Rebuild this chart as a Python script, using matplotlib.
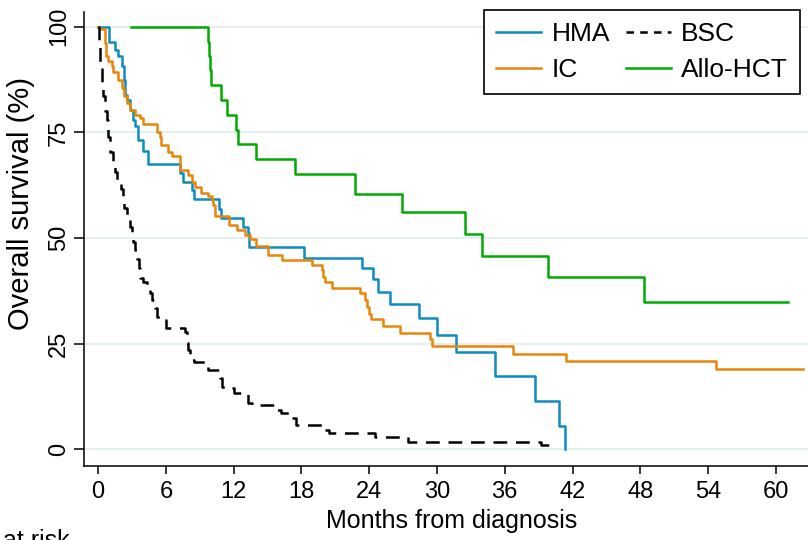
import matplotlib
matplotlib.use("Agg")
import matplotlib.pyplot as plt
from matplotlib.lines import Line2D

# ---------------------------------------------------------------------------
# Kaplan-Meier step data (months, survival %)
# ---------------------------------------------------------------------------
hma_t = [0, 1.0, 1.5, 1.8, 2.1, 2.25, 2.4, 2.6, 2.8, 3.1, 3.3, 3.5, 4.0, 4.45,
         7.25, 7.55, 8.3, 8.5, 10.7, 10.85, 12.8, 13.25, 13.4, 18.2, 23.4,
         24.3, 24.75, 25.8, 28.4, 30.0, 31.65, 35.1, 38.7, 40.8, 41.3]
hma_s = [100, 96.4, 94.5, 93.0, 90.6, 87.4, 83.9, 82.7, 80.3, 78.0, 76.4, 73.2,
         70.5, 67.5, 65.3, 63.3, 61.4, 59.2, 56.8, 54.8, 52.7, 51.1, 47.9, 45.3,
         42.8, 40.2, 37.3, 34.4, 31.0, 27.0, 23.1, 17.4, 11.45, 5.5, 0]

ic_t = [0, 0.2, 0.6, 0.7, 0.9, 1.2, 1.35, 1.8, 2.1, 2.25, 2.55, 2.85, 3.3, 3.7,
        4.0, 5.2, 5.5, 5.6, 6.2, 6.5, 7.25, 8.0, 8.3, 8.6, 9.1, 9.75, 10.1,
        10.2, 10.35, 11.6, 12.3, 13.0, 13.45, 14.0, 15.0, 16.25, 18.9, 19.8,
        19.9, 20.1, 20.7, 23.2, 23.6, 23.8, 24.0, 24.2, 25.2, 26.7, 29.4, 29.6,
        36.75, 41.4, 54.7, 62.4]
ic_s = [100, 99.4, 96.1, 93.0, 92.0, 90.6, 89.4, 87.4, 85.5, 83.5, 81.9, 80.3,
        79.1, 78.3, 77.0, 75.2, 74.0, 72.0, 70.4, 69.3, 66.1, 64.9, 63.3, 62.0,
        60.6, 60.0, 58.9, 57.8, 55.2, 53.1, 51.9, 50.7, 49.7, 48.1, 46.0, 44.8,
        43.6, 42.4, 40.8, 39.6, 38.2, 36.9, 35.3, 33.7, 32.1, 30.7, 29.1, 27.6,
        26.0, 24.3, 22.6, 20.9, 19.0, 19.0]

bsc_t = [0, 0.1, 0.2, 0.3, 0.4, 0.6, 0.75, 0.9, 1.05, 1.3, 1.5, 1.7, 2.0, 2.2,
         2.3, 2.6, 2.8, 3.0, 3.1, 3.3, 3.4, 3.6, 3.7, 4.0, 4.3, 4.6, 4.8, 5.0,
         5.2, 5.5, 6.0, 7.7, 7.9, 8.0, 8.1, 8.5, 9.7, 10.8, 11.0, 11.5, 12.0,
         13.3, 13.6, 15.8, 16.2, 17.0, 17.5, 19.9, 20.4, 24.5, 27.4, 39.2, 40.0]
bsc_s = [100, 96, 91.5, 87, 83.6, 80, 78, 74, 70.4, 67.5, 65.6, 63.5, 61.5, 59,
         57, 54.7, 52.6, 51, 49, 47.2, 45, 42.9, 40.5, 39.6, 37.7, 36.9, 35.3,
         33.5, 31.3, 30.6, 28.6, 27.7, 25.1, 23.5, 21.1, 20.6, 18.7, 16.8, 14.7,
         14.5, 13.3, 11.0, 10.4, 9.2, 8.5, 7.3, 5.7, 4.5, 3.7, 2.8, 1.8, 0.9, 0.9]

hct_t = [2.9, 9.75, 9.85, 9.9, 9.97, 10.9, 11.4, 12.2, 12.4, 14.0, 17.4, 22.7,
         26.9, 32.5, 33.95, 39.8, 48.3, 61.1]
hct_s = [100, 96.5, 93.1, 89.7, 86.2, 82.7, 79.0, 75.6, 72.2, 68.6, 65.1, 60.5,
         56.1, 50.9, 45.8, 40.7, 34.9, 34.9]

x_ticks = [0, 6, 12, 18, 24, 30, 36, 42, 48, 54, 60]
y_ticks = [0, 25, 50, 75, 100]

C_HMA = "#0f8cc0"
C_IC = "#e8850a"
C_BSC = "black"
C_HCT = "#00aa00"
GRID = "#e6eef0"

FONT = ["Liberation Sans", "DejaVu Sans"]

fig = plt.figure(figsize=(8.08, 5.4), dpi=100)
ax = fig.add_axes([84 / 808, (540 - 466) / 540, 1 - 84 / 808, (466 - 12) / 540])

lw = 1.8
ax.step(hma_t, hma_s, where="post", color=C_HMA, lw=lw, zorder=3)
ax.step(ic_t, ic_s, where="post", color=C_IC, lw=lw, zorder=3)
ax.step(bsc_t, bsc_s, where="post", color=C_BSC, lw=lw, dashes=(5.5, 3.5), zorder=3)
ax.step(hct_t, hct_s, where="post", color=C_HCT, lw=lw, zorder=3)

ax.set_xlim(-1.25, 62.85)
ax.set_ylim(-4.0, 103.5)

for v in y_ticks:
    ax.axhline(v, color=GRID, lw=1.6, zorder=1)

ax.spines["top"].set_visible(False)
ax.spines["right"].set_visible(False)
ax.spines["left"].set_linewidth(1.1)
ax.spines["bottom"].set_linewidth(1.1)

ax.set_xticks(x_ticks)
ax.set_yticks(y_ticks)
ax.tick_params(axis="x", length=6, width=1.1, pad=5)
ax.tick_params(axis="y", length=7, width=1.1, pad=3)
for lab in ax.get_xticklabels():
    lab.set_fontfamily(FONT)
    lab.set_fontsize(17)
for lab in ax.get_yticklabels():
    lab.set_fontfamily(FONT)
    lab.set_fontsize(17)
    lab.set_rotation(90)
    lab.set_va("center")

ax.set_xlabel("Months from diagnosis", fontfamily=FONT, fontsize=18)
ax.xaxis.set_label_coords(0.508, -0.095)
ax.set_ylabel("Overall survival (%)", fontfamily=FONT, fontsize=21)
ax.yaxis.set_label_coords(-0.068, 0.578)

handles = [
    Line2D([], [], color=C_HMA, lw=lw),
    Line2D([], [], color=C_IC, lw=lw),
    Line2D([], [], color=C_BSC, lw=lw, dashes=(3, 2.5)),
    Line2D([], [], color=C_HCT, lw=lw),
]
labels = ["HMA", "IC", "BSC", "Allo-HCT"]
leg = ax.legend(handles, labels, ncol=2, loc="upper right",
                bbox_to_anchor=(800 / 808, (540 - 10) / 540),
                bbox_transform=fig.transFigure, borderaxespad=0,
                prop={"family": FONT, "size": 19},
                handlelength=1.7, handletextpad=0.4, columnspacing=0.6,
                labelspacing=0.45, borderpad=0.45, fancybox=False,
                framealpha=1, edgecolor="black")
leg.get_frame().set_linewidth(1.2)

fig.text(3 / 808, -8 / 540, "at risk", fontfamily=FONT, fontsize=18,
         va="baseline", ha="left")

fig.savefig("out.png", dpi=100)
